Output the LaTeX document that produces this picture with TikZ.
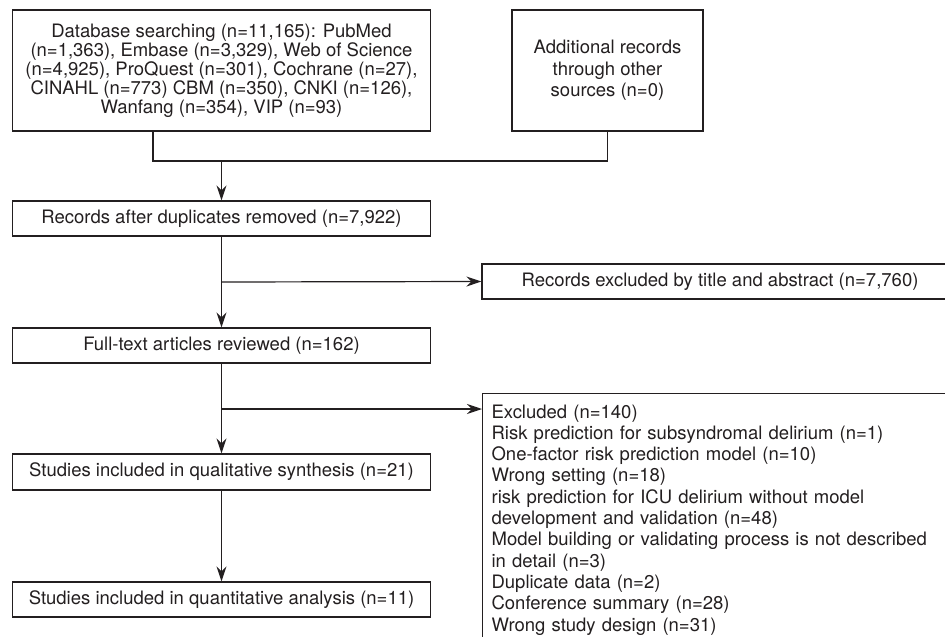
\documentclass[tikz,border=0pt]{standalone}
\usepackage{fontspec}
\setmainfont{TeX Gyre Heros}
\usetikzlibrary{arrows.meta}
\definecolor{ink}{HTML}{231F20}
\begin{document}
\begin{tikzpicture}[x=1pt,y=-1pt,
  box/.style={draw=ink, line width=1.2pt, text=ink, inner sep=0pt,
    font=\fontsize{18.5}{21.5}\selectfont, align=center},
  flow/.style={draw=ink, line width=1.2pt},
  arr/.style={flow, -{Stealth[length=15pt,width=10pt,inset=5pt]}}]
\useasboundingbox (0,0) rectangle (945,637);
% boxes
\node[box, minimum width=418pt, minimum height=121pt,
  font=\fontsize{18.5}{19.1}\selectfont] (db) at (221.5,70.5)
  {Database searching (n=11,165): PubMed\\
   (n=1,363), Embase (n=3,329), Web of Science\\
   (n=4,925), ProQuest (n=301), Cochrane (n=27),\\
   CINAHL (n=773) CBM (n=350), CNKI (n=126),\\
   Wanfang (n=354), VIP (n=93)};
\node[box, minimum width=191pt, minimum height=121pt] (add) at (607.5,70.5)
  {Additional records\\ through other\\ sources (n=0)};
\node[box, minimum width=418pt, minimum height=35pt] (dup) at (221.5,218.5)
  {Records after duplicates removed (n=7,922)};
\node[box, minimum width=476pt, minimum height=35pt] (ex1) at (720,281.5)
  {Records excluded by title and abstract (n=7,760)};
\node[box, minimum width=418pt, minimum height=35pt] (full) at (221.5,345.5)
  {Full-text articles reviewed (n=162)};
\node[box, anchor=north west, align=left, text width=470pt,
  inner xsep=9pt, inner ysep=11pt,
  font=\fontsize{18.5}{21.3}\selectfont] (ex2) at (482,393)
  {Excluded (n=140)\\
   Risk prediction for subsyndromal delirium (n=1)\\
   One-factor risk prediction model (n=10)\\
   Wrong setting (n=18)\\
   risk prediction for ICU delirium without model\\
   development and validation (n=48)\\
   Model building or validating process is not described\\
   in detail (n=3)\\
   Duplicate data (n=2)\\
   Conference summary (n=28)\\
   Wrong study design (n=31)\\[6pt]};
\node[box, minimum width=418pt, minimum height=36pt] (qual) at (221.5,472)
  {Studies included in qualitative synthesis (n=21)};
\node[box, minimum width=418pt, minimum height=35pt] (quant) at (221.5,599.5)
  {Studies included in quantitative analysis (n=11)};
% connectors
\coordinate (j1) at (153,161);
\coordinate (j2) at (221.5,161);
\coordinate (b1) at (221.5,282);
\coordinate (b2) at (221.5,409);
\draw[flow] (db.south -| j1) -- (j1) -- (j1 -| add.south) -- (add.south);
\draw[arr] (j2) -- (dup.north);
\draw[arr] (dup.south) -- (full.north);
\draw[arr] (b1) -- (ex1.west);
\draw[arr] (full.south) -- (qual.north);
\draw[arr] (b2) -- (b2 -| ex2.west);
\draw[arr] (qual.south) -- (quant.north);
\end{tikzpicture}
\end{document}
